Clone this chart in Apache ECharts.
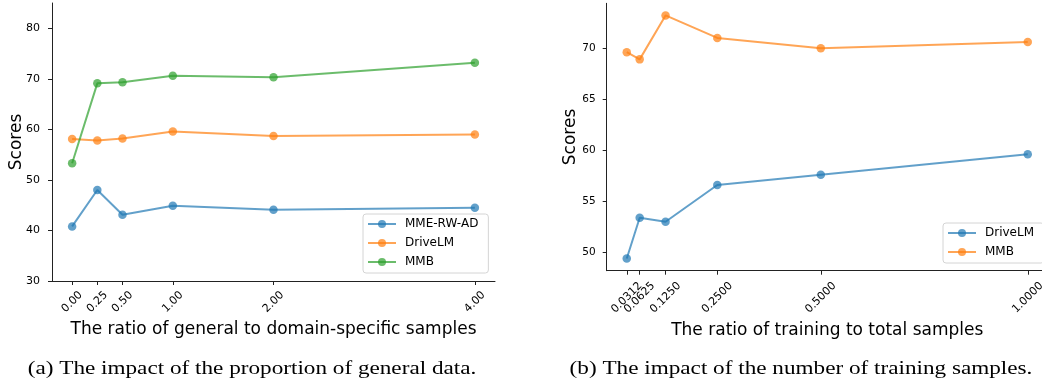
<!DOCTYPE html>
<html><head><meta charset="utf-8">
<script src="https://cdn.jsdelivr.net/npm/echarts@6/dist/echarts.min.js"></script>
<style>
html,body{margin:0;padding:0;width:1042px;height:383px;overflow:hidden;background:#fff}
#a{position:absolute;left:0;top:0;width:521px;height:383px}
#b{position:absolute;left:521px;top:0;width:530px;height:383px}
</style></head><body><div id="a"></div><div id="b"></div>
<script>
// ---- (a) data ----
const ratioGeneral = [0, 0.25, 0.5, 1, 2, 4];
const ratioGeneralLabels = ['0.00', '0.25', '0.50', '1.00', '2.00', '4.00'];
const mmeRwAd = [40.8, 48.0, 43.1, 44.9, 44.1, 44.5];
const driveLmA = [58.1, 57.8, 58.2, 59.6, 58.7, 59.0];
const mmbA = [53.3, 69.1, 69.3, 70.6, 70.3, 73.2];
const yTicksA = [30, 40, 50, 60, 70, 80];

// ---- (b) data ----
const ratioTrain = [0.03125, 0.0625, 0.125, 0.25, 0.5, 1.0];
const ratioTrainLabels = ['0.0312', '0.0625', '0.1250', '0.2500', '0.5000', '1.0000'];
const driveLmB = [49.4, 53.4, 53.0, 56.6, 57.6, 59.6];
const mmbB = [69.6, 68.9, 73.2, 71.0, 70.0, 70.6];
const yTicksB = [50, 55, 60, 65, 70];

const BLUE = '#1f77b4', ORANGE = '#ff7f0e', GREEN = '#2ca02c';
const AX = '#222';
const SANS = 'DejaVu Sans';

function pairs(xs, ys) { return xs.map((x, i) => [x, ys[i]]); }
function series(name, xs, ys, color) {
  return {
    type: 'line', name, data: pairs(xs, ys), color,
    symbol: 'circle', symbolSize: 8.5,
    lineStyle: { width: 2, opacity: 0.7 },
    itemStyle: { opacity: 0.7 },
    emphasis: { disabled: true }, silent: true, z: 3
  };
}
function labelMap(vals, labels) {
  return v => { const i = vals.findIndex(t => Math.abs(t - v) < 1e-9); return i >= 0 ? labels[i] : ''; };
}
// tickVals: where ticks are drawn; labVals: which of them get a label on this axis
function xAxisCfg(tickVals, labVals, labels, min, max, name, margin, font, showLine) {
  return {
    type: 'value', min, max, name, nameLocation: 'middle', nameGap: 37,
    nameTextStyle: { fontFamily: SANS, fontSize: 17, color: '#000' },
    splitLine: { show: false },
    axisLine: { show: showLine, onZero: false, lineStyle: { color: AX, width: 1 } },
    axisTick: { show: showLine, customValues: tickVals, length: 4, lineStyle: { color: AX, width: 1 } },
    axisLabel: { customValues: labVals, rotate: 45, align: 'center', verticalAlign: 'middle', margin,
      showMinLabel: true, showMaxLabel: true, hideOverlap: false,
      formatter: labelMap(tickVals, labels), fontFamily: SANS, fontSize: font, color: '#000' }
  };
}
function yAxisCfg(ticks, min, max, font, nameGap, margin) {
  return {
    type: 'value', min, max, name: 'Scores', nameLocation: 'middle', nameGap, nameRotate: 90,
    nameMoveOverlap: false,
    nameTextStyle: { fontFamily: SANS, fontSize: 17, color: '#000' },
    splitLine: { show: false },
    axisLine: { show: true, onZero: false, lineStyle: { color: AX, width: 1 } },
    axisTick: { show: true, customValues: ticks, length: 4, lineStyle: { color: AX, width: 1 } },
    axisLabel: { customValues: ticks, margin, fontFamily: SANS, fontSize: font, color: '#000',
      formatter: v => String(v) }
  };
}
function legendCfg(names, left, top) {
  return {
    data: names, left, top, orient: 'vertical',
    itemWidth: 28, itemHeight: 10, itemGap: 7,
    padding: [4, 10, 5, 4],
    borderColor: '#d4d4d4', borderWidth: 1, borderRadius: 3, backgroundColor: 'rgba(255,255,255,0.8)',
    textStyle: { fontFamily: SANS, fontSize: 12, color: '#000', padding: [0, 0, 0, 4] },
    selectedMode: false
  };
}
function caption(text, x) {
  return { type: 'text', x, y: 379, scaleX: 1.22,
    style: { text, font: '19px "Liberation Serif"', fill: '#000', align: 'center', verticalAlign: 'bottom' } };
}

// ---- chart (a) ----
const ca = echarts.init(document.getElementById('a'), null, { renderer: 'canvas' });
ca.setOption({
  animation: false,
  grid: { left: 52, top: 3, width: 443, height: 278, containLabel: false, outerBoundsMode: 'none' },
  xAxis: xAxisCfg(ratioGeneral, ratioGeneral, ratioGeneralLabels, -0.2, 4.2,
    'The ratio of general to domain-specific samples', 21, 11, true),
  yAxis: yAxisCfg(yTicksA, 30, 85, 11, 27, 12),
  legend: legendCfg(['MME-RW-AD', 'DriveLM', 'MMB'], 363, 214),
  series: [
    series('MME-RW-AD', ratioGeneral, mmeRwAd, BLUE),
    series('DriveLM', ratioGeneral, driveLmA, ORANGE),
    series('MMB', ratioGeneral, mmbA, GREEN)
  ],
  graphic: [caption('(a) The impact of the proportion of general data.', 252)]
});

// ---- chart (b) ----
const xsB = ratioTrain, ysB = driveLmB.concat(mmbB);
const xLo = Math.min(...xsB), xHi = Math.max(...xsB);
const yLo = Math.min(...ysB), yHi = Math.max(...ysB);
const xMinB = xLo - 0.05 * (xHi - xLo), xMaxB = xHi + 0.05 * (xHi - xLo);
// the two leftmost labels overlap (as in the original); put every other label on a twin axis
// so ECharts does not drop one of them
const labelsEven = ratioTrain.filter((v, i) => i % 2 === 0);
const labelsOdd = ratioTrain.filter((v, i) => i % 2 === 1);
const axisB0 = xAxisCfg(ratioTrain, labelsEven, ratioTrainLabels, xMinB, xMaxB,
  'The ratio of training to total samples', 27, 11, true);
const axisB1 = xAxisCfg(ratioTrain, labelsOdd, ratioTrainLabels, xMinB, xMaxB, '', 27, 11, false);
axisB1.position = 'bottom';
const cb = echarts.init(document.getElementById('b'), null, { renderer: 'canvas' });
cb.setOption({
  animation: false,
  grid: { left: 85.7, top: 3.3, width: 441.1, height: 267.4, containLabel: false, outerBoundsMode: 'none' },
  xAxis: [axisB0, axisB1],
  yAxis: yAxisCfg(yTicksB, yLo - 0.05 * (yHi - yLo), yHi + 0.05 * (yHi - yLo), 10.5, 28, 11),
  legend: legendCfg(['DriveLM', 'MMB'], 422, 223),
  series: [
    series('DriveLM', ratioTrain, driveLmB, BLUE),
    series('MMB', ratioTrain, mmbB, ORANGE)
  ],
  graphic: [caption('(b) The impact of the number of training samples.', 280)]
});
</script></body></html>
